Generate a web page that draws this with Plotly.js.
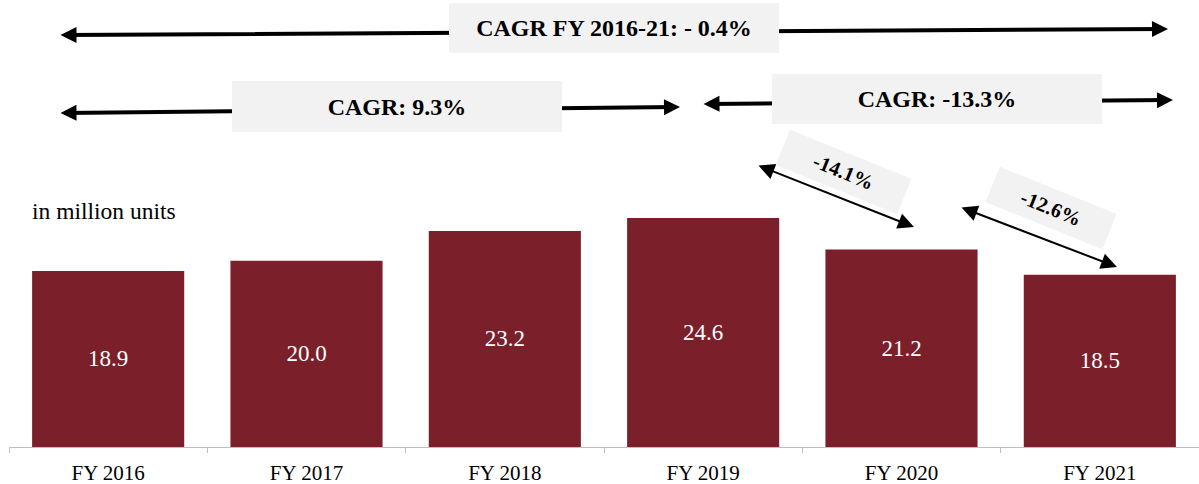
<!DOCTYPE html>
<html>
<head>
<meta charset="utf-8">
<script src="https://cdn.plot.ly/plotly-3.0.1.min.js"></script>
<style>html,body{margin:0;padding:0;background:#fff;}#chart{width:1199px;height:484px;}</style>
</head>
<body>
<div id="chart"></div>
<script>
// ---- data ----
var categories = ["FY 2016", "FY 2017", "FY 2018", "FY 2019", "FY 2020", "FY 2021"];
var volumes = [18.9, 20.0, 23.2, 24.6, 21.2, 18.5];
var unitLabel = "in million units";
var cagrTotal = "CAGR FY 2016-21: - 0.4%";
var cagrFirst = "CAGR: 9.3%";
var cagrSecond = "CAGR: -13.3%";
var yoyLabels = ["-14.1%", "-12.6%"];

// ---- layout helpers (pixel -> paper) ----
var W = 1199, H = 484, ML = 9, MR = 0, MT = 0, MB = 37;
var PW = W - ML - MR, PH = H - MT - MB;
function px(x) { return (x - ML) / PW; }
function py(y) { return (H - MB - y) / PH; }
var FONT = 'Liberation Serif';

function arrow(x1, y1, x2, y2, w, s) {
  return {
    xref: 'paper', yref: 'paper', x: px(x2), y: py(y2),
    axref: 'pixel', ayref: 'pixel', ax: x1 - x2, ay: y1 - y2,
    text: '', showarrow: true, arrowside: 'end+start',
    arrowhead: 2, startarrowhead: 2, arrowwidth: w,
    arrowsize: s, startarrowsize: s, arrowcolor: '#000',
    standoff: 0, startstandoff: 0
  };
}
function box(cx, cy, txt, w, h, size, angle) {
  return {
    xref: 'paper', yref: 'paper', x: px(cx), y: py(cy),
    xanchor: 'center', yanchor: 'middle', showarrow: false,
    text: '<b>' + txt + '</b>', bgcolor: '#F2F2F2',
    width: w, height: h, borderpad: 0, borderwidth: 0,
    textangle: angle || 0,
    font: { family: FONT, size: size, color: '#000', weight: 'bold' }
  };
}

var trace = {
  type: 'bar', x: categories, y: volumes,
  marker: { color: '#7B1F2A' },
  text: volumes.map(function (v) { return v.toFixed(1); }),
  textposition: 'inside', insidetextanchor: 'middle',
  textfont: { family: FONT, size: 23, color: '#FFFFFF' },
  hoverinfo: 'x+y', cliponaxis: false
};

var annotations = [
  arrow(59, 35, 1168, 29, 4, 0.8),
  arrow(59, 113, 680, 107, 4, 0.8),
  arrow(702, 104, 1173, 100, 4, 0.8),
  arrow(757, 165, 914, 227, 2, 1.6),
  arrow(960, 207, 1117, 267, 2, 1.6),
  box(614, 28, cagrTotal, 330, 50, 24),
  box(397, 106, cagrFirst, 330, 51, 24),
  box(937, 99, cagrSecond, 330, 50, 24),
  box(844, 172, yoyLabels[0], 131, 38, 20.5, 22),
  box(1051, 208, yoyLabels[1], 126, 38, 20.5, 22),
  {
    xref: 'paper', yref: 'paper', x: px(32), y: py(211),
    xanchor: 'left', yanchor: 'middle', showarrow: false,
    borderpad: 0, borderwidth: 0,
    text: unitLabel, font: { family: FONT, size: 23.5, color: '#000' }
  }
];

var layout = {
  width: W, height: H,
  font: { family: FONT, color: '#000' },
  margin: { l: ML, r: MR, t: MT, b: MB, pad: 0 },
  paper_bgcolor: '#fff', plot_bgcolor: '#fff',
  showlegend: false, bargap: 0.233,
  xaxis: {
    type: 'category', showline: true, linecolor: '#BFBFBF', linewidth: 1,
    ticks: 'outside', tickson: 'boundaries', ticklen: 5, tickcolor: '#BFBFBF',
    ticklabelstandoff: 7,
    tickfont: { family: FONT, size: 21, color: '#000' },
    showgrid: false, zeroline: false, fixedrange: true
  },
  yaxis: { range: [0, 48], visible: false, showgrid: false, zeroline: false, fixedrange: true },
  annotations: annotations
};

Plotly.newPlot('chart', [trace], layout, { displayModeBar: false, staticPlot: true });
</script>
</body>
</html>
